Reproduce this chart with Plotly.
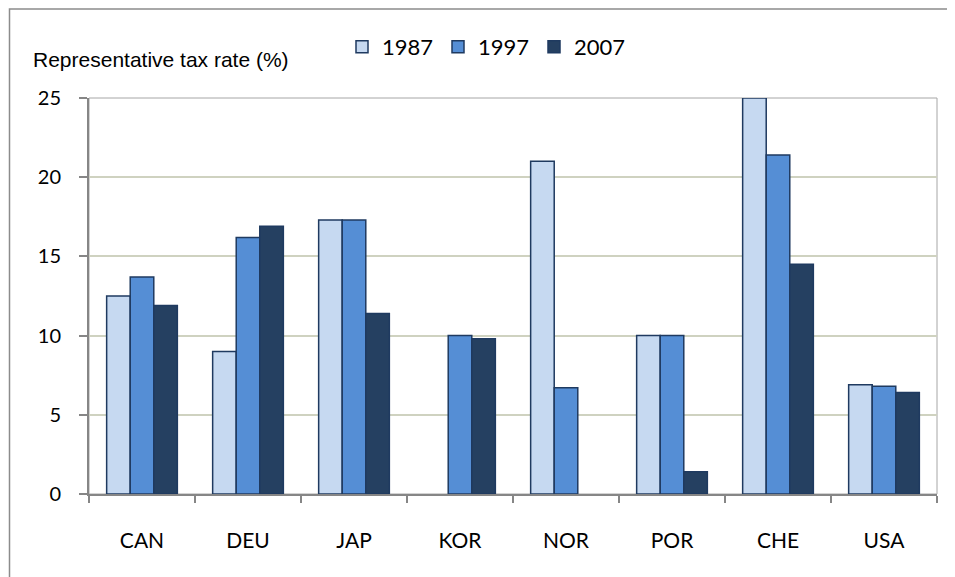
import plotly.graph_objects as go

categories = ["CAN", "DEU", "JAP", "KOR", "NOR", "POR", "CHE", "USA"]
years = ["1987", "1997", "2007"]
v1987 = [12.5, 9.0, 17.3, None, 21.0, 10.0, 25.0, 6.9]
v1997 = [13.7, 16.2, 17.3, 10.0, 6.7, 10.0, 21.4, 6.8]
v2007 = [11.9, 16.9, 11.4, 9.8, None, 1.4, 14.5, 6.4]
yticks = [0, 5, 10, 15, 20, 25]
title_text = "Representative tax rate (%)"

fills = ["#C6D9F1", "#558ED5", "#254061"]
outline = "#1F3A60"

W, H = 955, 577
OFF = 8  # page body margin: screen coordinate = figure coordinate + 8
SL, SR, ST, SB = 89, 937, 98, 494
L, T = SL - OFF, ST - OFF
R, B = W - (SR - OFF), H - (SB - OFF)
pw, ph = SR - SL, SB - ST

fig = go.Figure()
for name, vals, col in zip(years, [v1987, v1997, v2007], fills):
    fig.add_trace(go.Bar(
        x=categories, y=vals, name=name,
        marker=dict(color=col, line=dict(color=outline, width=1.5)),
    ))

def px_x(p):
    return (p - SL) / pw

def px_y(p):
    return (SB - p) / ph

shapes = [
    dict(type="rect", xref="paper", yref="paper",
         x0=px_x(9.5), x1=px_x(990), y0=px_y(9), y1=px_y(620),
         line=dict(color="#8c8c8c", width=1.5), fillcolor="rgba(0,0,0,0)", layer="above"),
    dict(type="rect", xref="paper", yref="paper", x0=0, x1=1, y0=0, y1=1,
         line=dict(color="#a6a6a6", width=1), fillcolor="rgba(0,0,0,0)", layer="below"),
]

fig.update_layout(
    width=W, height=H,
    margin=dict(l=L, r=R, t=T, b=B, autoexpand=False),
    paper_bgcolor="white", plot_bgcolor="white",
    barmode="group", bargap=0.333, bargroupgap=0,
    font=dict(family="Lato, Calibri, sans-serif", color="#000000", size=19),
    showlegend=True,
    legend=dict(orientation="h", xref="container", yref="container",
                x=334 / W, y=1 - 18 / H, xanchor="left", yanchor="top",
                font=dict(size=22, family="Lato, Calibri, sans-serif"),
                entrywidth=51, entrywidthmode="pixels",
                bgcolor="rgba(0,0,0,0)", traceorder="normal"),
    shapes=shapes,
    annotations=[dict(text=title_text, xref="paper", yref="paper",
                      x=px_x(31), y=px_y(59), xanchor="left", yanchor="middle",
                      showarrow=False,
                      font=dict(family="Liberation Sans Narrow, Arial Narrow, Liberation Sans, Arial, sans-serif",
                                size=21, color="#000000"))],
)

fig.update_xaxes(
    type="category", showgrid=False, tickson="boundaries",
    ticks="outside", ticklen=7, tickwidth=2, tickcolor="#868686",
    showline=True, linecolor="#868686", linewidth=2,
    tickfont=dict(size=21), ticklabelstandoff=27,
)
fig.update_yaxes(
    range=[0, 25], tickvals=yticks, ticktext=[str(t) for t in yticks],
    showgrid=True, gridcolor="#CFD2C0", gridwidth=1.5,
    ticks="outside", ticklen=8, tickwidth=2, tickcolor="#868686",
    showline=True, linecolor="#868686", linewidth=2,
    tickfont=dict(size=20), ticklabelstandoff=14, zeroline=False,
)

fig.write_html("out.html")
